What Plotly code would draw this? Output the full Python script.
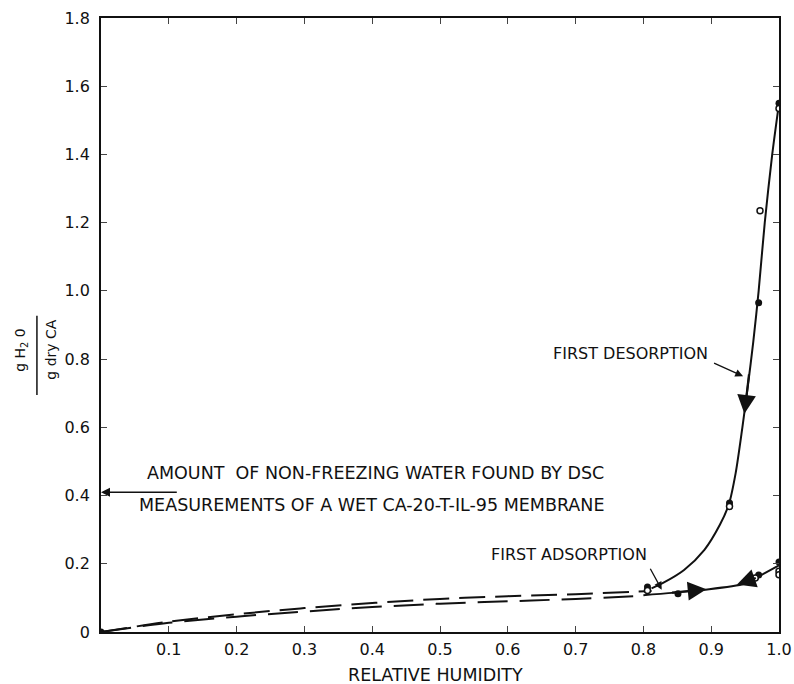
import plotly.graph_objects as go

# Curves
des_x = [1.0, 0.99, 0.979, 0.97, 0.962, 0.954, 0.946, 0.936, 0.926, 0.913, 0.89, 0.86, 0.829, 0.812]
des_y = [1.55, 1.4, 1.2, 1.0, 0.85, 0.72, 0.6, 0.465, 0.374, 0.315, 0.241, 0.182, 0.144, 0.128]
des_dash_x = [0.0, 0.1, 0.2, 0.3, 0.4, 0.5, 0.6, 0.7, 0.812]
des_dash_y = [0.0, 0.03, 0.052, 0.07, 0.085, 0.097, 0.105, 0.111, 0.12]
ads_dash_x = [0.0, 0.1, 0.2, 0.3, 0.4, 0.5, 0.6, 0.7, 0.8]
ads_dash_y = [0.0, 0.027, 0.045, 0.06, 0.073, 0.083, 0.09, 0.097, 0.106]
ads_x = [0.8, 0.88, 0.95, 0.97, 1.0]
ads_y = [0.108, 0.122, 0.142, 0.163, 0.195]

filled_x = [0.0, 0.806, 0.851, 0.927, 0.97, 1.0, 0.97, 1.0]
filled_y = [0.0, 0.132, 0.112, 0.378, 0.965, 1.55, 0.167, 0.205]
open_x = [0.806, 0.927, 0.972, 1.0, 0.965, 1.0, 1.0]
open_y = [0.122, 0.368, 1.235, 1.535, 0.158, 0.178, 0.168]

x_ticks = [0.1, 0.2, 0.3, 0.4, 0.5, 0.6, 0.7, 0.8, 0.9, 1.0]
x_labels = ["0.1", "0.2", "0.3", "0.4", "0.5", "0.6", "0.7", "0.8", "0.9", "1.0"]
y_ticks = [0, 0.2, 0.4, 0.6, 0.8, 1.0, 1.2, 1.4, 1.6, 1.8]
y_labels = ["0", "0.2", "0.4", "0.6", "0.8", "1.0", "1.2", "1.4", "1.6", "1.8"]

FONT = "DejaVu Sans"
BLACK = "#111111"

fig = go.Figure()
fig.add_trace(go.Scatter(x=des_x, y=des_y, mode="lines", line=dict(color=BLACK, width=2, shape="spline", smoothing=0.8), showlegend=False))
fig.add_trace(go.Scatter(x=des_dash_x, y=des_dash_y, mode="lines", line=dict(color=BLACK, width=2, dash="26px,10px", shape="spline"), showlegend=False))
fig.add_trace(go.Scatter(x=ads_dash_x, y=ads_dash_y, mode="lines", line=dict(color=BLACK, width=2, dash="30px,12px", shape="spline"), showlegend=False))
fig.add_trace(go.Scatter(x=ads_x, y=ads_y, mode="lines", line=dict(color=BLACK, width=2, shape="spline"), showlegend=False))
fig.add_trace(go.Scatter(x=filled_x, y=filled_y, mode="markers", marker=dict(color=BLACK, size=7, symbol="circle"), showlegend=False))
fig.add_trace(go.Scatter(x=open_x, y=open_y, mode="markers", marker=dict(color="white", size=6, symbol="circle", line=dict(color=BLACK, width=1.5)), showlegend=False))

ann = []
def arrow(x, y, ax, ay, size=1.0, width=1.2, head=2):
    ann.append(dict(x=x, y=y, ax=ax, ay=ay, xref="x", yref="y", axref="x", ayref="y",
                    text="", showarrow=True, arrowhead=head, arrowsize=size, arrowwidth=width, arrowcolor=BLACK))

# on-curve direction arrows
arrow(0.949, 0.64, 0.956, 0.76, size=1.7, width=2.2)
arrow(0.893, 0.125, 0.84, 0.115, size=1.7, width=2.2)
arrow(0.938, 0.139, 0.968, 0.16, size=1.7, width=2.2)
# label arrows
arrow(0.947, 0.75, 0.902, 0.79, size=1.2, width=1.3)
arrow(0.827, 0.124, 0.809, 0.19, size=1.2, width=1.3)
arrow(0.0, 0.41, 0.114, 0.41, size=1.2, width=1.5)

def text(x, y, t, xanchor="center", size=17.5):
    ann.append(dict(x=x, y=y, xref="x", yref="y", text=t, showarrow=False, xanchor=xanchor,
                    font=dict(family=FONT, size=size, color=BLACK)))

text(0.781, 0.815, "FIRST DESORPTION", size=16)
text(0.69, 0.226, "FIRST ADSORPTION", size=16)
text(0.065, 0.465, "AMOUNT  OF NON-FREEZING WATER FOUND BY DSC", xanchor="left")
text(0.053, 0.373, "MEASUREMENTS OF A WET CA-20-T-IL-95 MEMBRANE", xanchor="left")

# x-axis title
ann.append(dict(x=0.493, y=-0.07, xref="paper", yref="paper", text="RELATIVE HUMIDITY",
                xanchor="center", yanchor="middle", showarrow=False,
                font=dict(family=FONT, size=17.5, color=BLACK)))

# y-axis label as a fraction
ann.append(dict(x=-0.117, y=0.459, xref="paper", yref="paper", text="g H<sub>2</sub> 0", textangle=-90,
                xanchor="center", yanchor="middle",
                showarrow=False, font=dict(family=FONT, size=14, color=BLACK)))
ann.append(dict(x=-0.073, y=0.459, xref="paper", yref="paper", text="g dry CA", textangle=-90,
                xanchor="center", yanchor="middle",
                showarrow=False, font=dict(family=FONT, size=14, color=BLACK)))

fig.update_layout(
    width=794, height=684,
    margin=dict(l=101, r=15, t=18, b=52, autoexpand=False),
    paper_bgcolor="white", plot_bgcolor="white",
    annotations=ann,
    shapes=[dict(type="line", xref="paper", yref="paper", x0=-0.0945, x1=-0.0945, y0=0.386, y1=0.515,
                 line=dict(color=BLACK, width=1.5))],
    font=dict(family=FONT, size=16, color=BLACK),
)
fig.update_xaxes(range=[0, 1.0], tickvals=x_ticks, ticktext=x_labels, ticks="inside", ticklen=6,
                 showline=True, linecolor=BLACK, linewidth=1.8, mirror="ticks", showgrid=False, zeroline=False,
                 automargin=False, tickfont=dict(family=FONT, size=16), ticklabelstandoff=2)
fig.update_yaxes(range=[0, 1.8], tickvals=y_ticks, ticktext=y_labels, ticks="inside", ticklen=6,
                 showline=True, linecolor=BLACK, linewidth=1.8, mirror="ticks", showgrid=False, zeroline=False,
                 automargin=False, tickfont=dict(family=FONT, size=16), ticklabelstandoff=6)

fig.write_html("out.html")
